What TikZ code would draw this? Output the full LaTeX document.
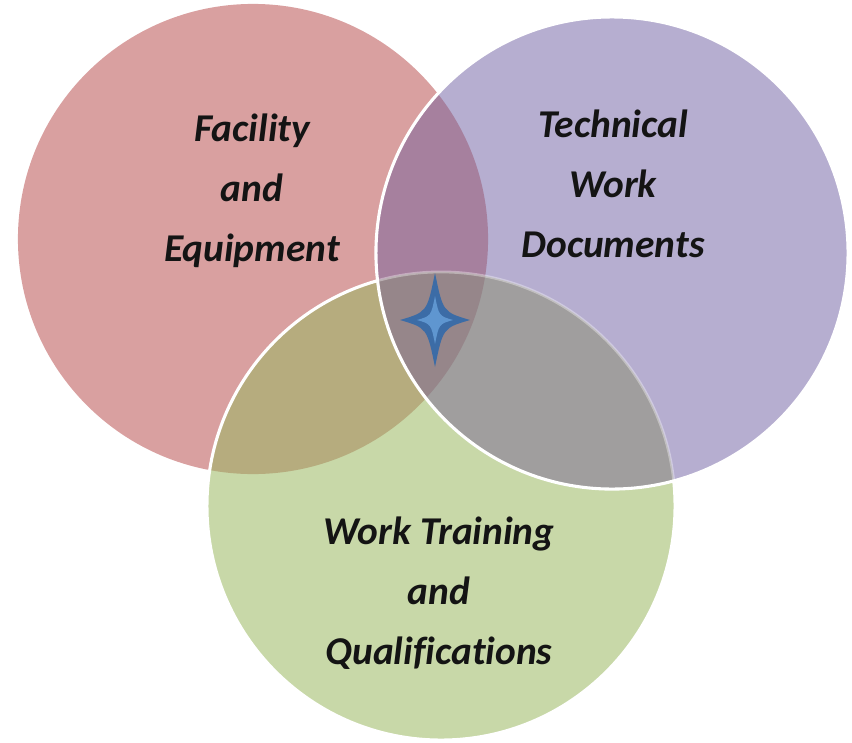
\documentclass[tikz,border=0pt]{standalone}
\usepackage{fontspec}
\setmainfont{Carlito}[Ligatures=NoCommon]
\definecolor{cred}{RGB}{217,160,160}
\definecolor{cpurple}{RGB}{182,174,208}
\definecolor{cgreen}{RGB}{200,216,168}
\definecolor{crp}{RGB}{166,128,158}
\definecolor{crg}{RGB}{182,172,126}
\definecolor{cpg}{RGB}{160,158,158}
\definecolor{ctri}{RGB}{150,134,138}
\definecolor{stardark}{RGB}{60,108,166}
\definecolor{starlight}{RGB}{95,150,208}
\tikzset{
  label/.style={align=center, font=\fontsize{28}{42.7}\selectfont\bfseries\itshape, text=black!92},
  rim/.style={draw=white, line width=2.2pt}
}
\begin{document}
\begin{tikzpicture}[x=0.025cm,y=-0.025cm]
\useasboundingbox (0,0) rectangle (852,742);
\coordinate (R) at (253,239);
\coordinate (P) at (612,253);
\coordinate (G) at (441,506);
\def\rR{5.875cm}
\def\rP{5.9cm}
\def\rG{5.85cm}
% red circle
\fill[cred] (R) circle[radius=\rR];
% green circle
\fill[cgreen] (G) circle[radius=\rG];
\begin{scope}
  \clip (R) circle[radius=\rR];
  \fill[crg] (G) circle[radius=\rG];
\end{scope}
\draw[rim] (G) circle[radius=\rG];
% purple circle
\fill[cpurple] (P) circle[radius=\rP];
\begin{scope}
  \clip (P) circle[radius=\rP];
  \fill[crp] (R) circle[radius=\rR];
  \fill[cpg] (G) circle[radius=\rG];
  \begin{scope}
    \clip (R) circle[radius=\rR];
    \fill[ctri] (G) circle[radius=\rG];
  \end{scope}
  \draw[white, opacity=0.35, line width=2pt] (G) circle[radius=\rG];
\end{scope}
\draw[rim] (P) circle[radius=\rP];
% star
\fill[stardark] (435,273) .. controls (443,312) .. (470,320)
  .. controls (443,328) .. (435,367)
  .. controls (427,328) .. (400,320)
  .. controls (427,312) .. cycle;
\fill[starlight] (435,296) .. controls (439,316) .. (453,320)
  .. controls (439,324) .. (435,344)
  .. controls (431,324) .. (417,320)
  .. controls (431,316) .. cycle;
% labels
\node[label] (fe) at (252,191) {Facility\\and\\Equipment};
\node[label] (tw) at (613,184) {Technical\\Work\\Documents};
\node[label] (wt) at (439,593) {Work Training\\and\\Qualifications};
\end{tikzpicture}
\end{document}
